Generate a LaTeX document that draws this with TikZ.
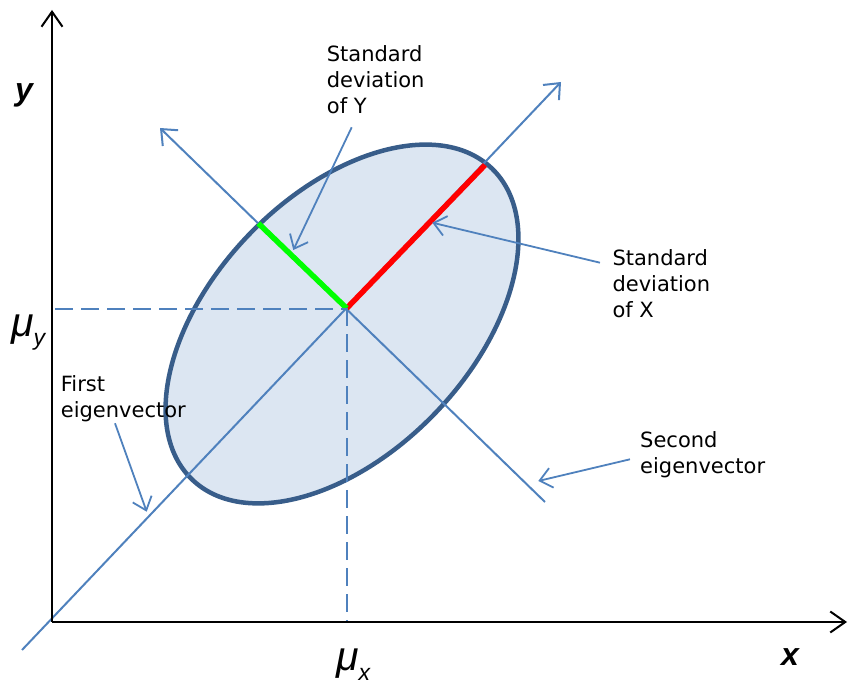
\documentclass[tikz,border=0pt]{standalone}
\usepackage{fontspec}
\setmainfont{DejaVu Sans}
\newfontfamily\axfont{Liberation Sans}
\usetikzlibrary{arrows.meta}
\definecolor{eblue}{RGB}{79,129,189}
\definecolor{edgeblue}{RGB}{56,93,138}
\definecolor{fillblue}{RGB}{220,230,242}
\definecolor{sred}{RGB}{255,0,0}
\definecolor{sgreen}{RGB}{0,255,0}
\begin{document}
\begin{tikzpicture}[x=1pt,y=1pt,
  axisline/.style={line width=2pt,black,-{Straight Barb[length=15pt,width=21pt,line width=2pt]}},
  eigline/.style={line width=2pt,eblue},
  eigarrow/.style={eigline,-{Straight Barb[length=13pt,width=22pt,line width=2pt]}},
  pointer/.style={line width=1.8pt,eblue,-{Straight Barb[length=12pt,width=20pt,line width=1.8pt]}},
  meanline/.style={line width=2pt,eblue,dash pattern=on 18pt off 8pt},
  stdline/.style={line width=5.5pt},
  lbl/.style={font=\fontsize{21}{26}\selectfont,align=left,inner sep=0pt,anchor=base west},
  axlbl/.style={font=\axfont\bfseries\itshape\fontsize{32}{32}\selectfont,inner sep=0pt,anchor=base},
  mulbl/.style={font=\axfont\itshape\fontsize{41}{41}\selectfont,inner sep=0pt,anchor=base west}]
\useasboundingbox (0,0) rectangle (849,688);
% key points
\coordinate (O) at (52,66);
\coordinate (Ytop) at (52,678);
\coordinate (Xend) at (847,66);
\coordinate (C) at (346.7,379.7);
\coordinate (Cy) at (55,378.5);
\coordinate (C2) at (346.7,378.5);
\coordinate (Cx) at (346.7,66);
\coordinate (M1) at (22,38);
\coordinate (M2) at (561,606);
\coordinate (N1) at (160,560);
\coordinate (N2) at (545,186);
\coordinate (R) at (485,523);
\coordinate (G) at (258.3,464.7);
% ellipse
\draw[line width=4.5pt,draw=edgeblue,fill=fillblue] (342,364) ellipse [x radius=216, y radius=129, rotate=46];
% eigenvector lines
\draw[eigarrow] (M1) -- (M2);
\draw[eigarrow] (N2) -- (N1);
% standard deviations
\draw[stdline,sred] (C) -- (R);
\draw[stdline,sgreen] (C) -- (G);
% means
\draw[meanline] (Cy) -- (C2);
\draw[meanline] (C) -- (Cx);
% axes
\draw[axisline] (O) -- (Ytop);
\draw[axisline] (O) -- (Xend);
% labels
\node[lbl] (sdy) at (326.7,574) {Standard\\deviation\\of Y};
\node[lbl] (sdx) at (612.3,370.7) {Standard\\deviation\\of X};
\node[lbl] (fe) at (60.7,270.7) {First\\eigenvector};
\node[lbl] (se) at (640,214.7) {Second\\eigenvector};
\node[axlbl] (ylab) at (24,587) {y};
\node[axlbl] (xlab) at (790,22) {x};
\node[mulbl] (muy) at (11,351) {μ\raisebox{-9pt}{\fontsize{23}{23}\selectfont y}};
\node[mulbl] (mux) at (336,17) {μ\raisebox{-10pt}{\fontsize{23}{23}\selectfont x}};
% pointers
\coordinate (pyS) at (351.7,560.7);
\coordinate (pyE) at (293.3,438);
\coordinate (pxS) at (600,425.3);
\coordinate (pxE) at (432.3,465.3);
\coordinate (pfS) at (115,264.7);
\coordinate (pfE) at (146.7,176.3);
\coordinate (psS) at (630,228.7);
\coordinate (psE) at (538.3,207);
\draw[pointer] (pyS) -- (pyE);
\draw[pointer] (pxS) -- (pxE);
\draw[pointer] (pfS) -- (pfE);
\draw[pointer] (psS) -- (psE);
\end{tikzpicture}
\end{document}
